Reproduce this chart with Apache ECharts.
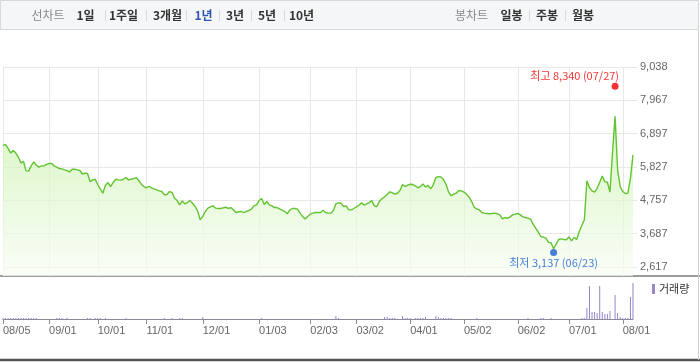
<!DOCTYPE html>
<html><head><meta charset="utf-8">
<script src="https://cdn.jsdelivr.net/npm/echarts@6/dist/echarts.min.js"></script>
<style>html,body{margin:0;padding:0;background:#fff}#c{width:700px;height:362px}</style>
</head><body><div id="c"></div>
<script>
// trading days (Korean market) per month
const monthDays = [
  ['2021/08',[5,6,9,10,11,12,13,17,18,19,20,23,24,25,26,27,30,31]],
  ['2021/09',[1,2,3,6,7,8,9,10,13,14,15,16,17,23,24,27,28,29,30]],
  ['2021/10',[1,5,6,7,8,12,13,14,15,18,19,20,21,22,25,26,27,28,29]],
  ['2021/11',[1,2,3,4,5,8,9,10,11,12,15,16,17,18,19,22,23,24,25,26,29,30]],
  ['2021/12',[1,2,3,6,7,8,9,10,13,14,15,16,17,20,21,22,23,24,27,28,29,30]],
  ['2022/01',[3,4,5,6,7,10,11,12,13,14,17,18,19,20,21,24,25,26,27,28]],
  ['2022/02',[3,4,7,8,9,10,11,14,15,16,17,18,21,22,23,24,25,28]],
  ['2022/03',[2,3,4,7,8,10,11,14,15,16,17,18,21,22,23,24,25,28,29,30,31]],
  ['2022/04',[1,4,5,6,7,8,11,12,13,14,15,18,19,20,21,22,25,26,27,28,29]],
  ['2022/05',[2,3,4,6,9,10,11,12,13,16,17,18,19,20,23,24,25,26,27,30,31]],
  ['2022/06',[2,3,7,8,9,10,13,14,15,16,17,20,21,22,23,24,27,28,29,30]],
  ['2022/07',[1,4,5,6,7,8,11,12,13,14,15,18,19,20,21,22,25,26,27,28,29]],
  ['2022/08',[1,2,3,4,5]]
];
const categories = [];
monthDays.forEach(([m, days]) => days.forEach(d => categories.push(m + '/' + String(d).padStart(2, '0'))));

const tickDates = ['2021/08/05','2021/09/01','2021/10/01','2021/11/01','2021/12/01','2022/01/03',
  '2022/02/03','2022/03/02','2022/04/01','2022/05/02','2022/06/02','2022/07/01','2022/08/01'];
const priceTicks = [2617, 3687, 4757, 5827, 6897, 7967, 9038];

const closePrices = [
  6520,6545,6420,6270,6350,6270,6140,5950,6010,5700,
  5690,5860,5990,5890,5820,5860,5860,5910,5935,5935,
  5860,5820,5775,5765,5730,5710,5665,5750,5750,5730,
  5710,5600,5625,5615,5355,5410,5430,5260,5110,4980,
  5240,5325,5195,5325,5430,5410,5400,5430,5485,5410,
  5430,5450,5485,5390,5270,5195,5155,5205,5155,5120,
  5090,5055,5035,4930,4940,5035,5005,4820,4745,4605,
  4735,4640,4680,4745,4660,4555,4415,4125,4235,4395,
  4500,4545,4580,4500,4490,4490,4510,4530,4490,4520,
  4445,4360,4385,4395,4360,4395,4425,4470,4575,4605,
  4745,4810,4620,4715,4605,4575,4520,4520,4480,4435,
  4395,4320,4445,4490,4490,4470,4340,4235,4150,4235,
  4310,4340,4360,4360,4360,4435,4360,4340,4340,4425,
  4640,4670,4660,4555,4575,4445,4445,4490,4545,4595,
  4670,4595,4640,4680,4745,4575,4555,4725,4810,4865,
  4940,5025,4995,4950,4980,5065,5260,5195,5240,5270,
  5260,5215,5155,5200,5280,5180,5230,5120,5250,5485,
  5515,5505,5420,5270,5015,4900,4950,4980,5070,5055,
  5015,4950,4855,4715,4530,4480,4445,4360,4340,4330,
  4320,4330,4340,4320,4285,4160,4200,4170,4220,4285,
  4310,4330,4285,4220,4200,4180,4150,3985,3860,3730,
  3590,3570,3535,3400,3390,3195,3345,3495,3515,3495,
  3485,3580,3450,3560,3495,3750,3945,4125,5380,5165,
  5055,5015,5140,5335,5530,5355,5335,5015,6300,7455,
  5730,5195,5035,4970,4980,5465,6215
];

const volumes = [
  1,1,1,1,1,1,1,1,1,1,
  1,1,1,1,0,0,0,0,0,0,
  0,1,1,1,0,1,0,0,0,0,
  0,0,0,1,1,0,1,1,1,0,
  1,0,0,0,0,0,0,0,1,0,
  0,0,0,0,0,0,0,0,0,0,
  0,0,0,1,0,0,1,0,0,1,
  1,0,0,0,0,0,0,0,2,0,
  0,0,0,0,0,0,0,0,0,0,
  0,0,0,0,0,0,0,0,0,0,
  0,1,0,0,0,0,0,0,0,0,
  0,0,0,0,0,0,0,0,0,0,
  0,0,0,0,0,0,0,0,0,0,
  3,1,0,0,0,0,0,0,0,0,
  0,0,0,0,0,0,0,0,0,2,
  2,1,1,1,0,0,3,1,1,1,
  0,1,1,1,1,2,0,0,0,3,
  2,1,1,1,1,1,0,0,0,0,
  0,0,0,0,0,1,0,0,0,0,
  0,0,0,0,0,0,0,0,0,0,
  0,0,0,0,0,1,0,0,0,0,
  1,1,0,0,1,0,0,0,0,0,
  0,0,0,0,0,0,1,1,11,33,
  7,7,6,33,7,5,5,8,0,24,
  6,2,1,1,1,22,36
];

const extremeNames = ['최고', '최저'];
const extremeDates = ['2022/07/27', '2022/06/23'];
const extremeValues = [8340, 3137];
const extremeColors = ['#f00000', '#1a5fd0'];

const leftTabs = ['1일', '1주일', '3개월', '1년', '3년', '5년', '10년'];
const leftTabX = [85.5, 123.5, 167.5, 203.5, 235, 267, 301.5];
const rightTabs = ['일봉', '주봉', '월봉'];
const rightTabX = [511.5, 547, 583];

const fmt = v => Number(v).toLocaleString('en-US');
const isTick = (i, v) => tickDates.indexOf(v) >= 0;
const tabFont = 'bold 12px "Noto Sans CJK KR", sans-serif';

const graphics = [
  { type: 'rect', shape: { x: 0.5, y: 0.5, width: 698, height: 29 }, style: { fill: '#f5f6f8', stroke: '#d6d8dc', lineWidth: 1 }, z: 0 },
  { type: 'text', x: 48, y: 15, style: { text: '선차트', font: '12px "Noto Sans CJK KR", sans-serif', fill: '#8a8a8a', align: 'center', verticalAlign: 'middle' } },
  { type: 'text', x: 471.5, y: 15, style: { text: '봉차트', font: '12px "Noto Sans CJK KR", sans-serif', fill: '#8a8a8a', align: 'center', verticalAlign: 'middle' } },
  { type: 'line', shape: { x1: 0, y1: 276, x2: 700, y2: 276 }, style: { stroke: '#7d7d7d', lineWidth: 1.5 } },
  { type: 'line', shape: { x1: 0, y1: 360, x2: 700, y2: 360 }, style: { stroke: '#555555', lineWidth: 2.5 } },
  { type: 'line', shape: { x1: 698.5, y1: 30, x2: 698.5, y2: 360 }, style: { stroke: '#cfcfcf', lineWidth: 1 } },
  { type: 'rect', shape: { x: 652, y: 284, width: 3, height: 10 }, style: { fill: '#9a88cc' } },
  { type: 'text', x: 659, y: 289, style: { text: '거래량', font: '11px "Noto Sans CJK KR", sans-serif', fill: '#333', verticalAlign: 'middle' } }
];
leftTabs.forEach((t, i) => {
  graphics.push({ type: 'text', x: leftTabX[i], y: 15, style: { text: t, font: tabFont, fill: t === '1년' ? '#2f55b5' : '#333', align: 'center', verticalAlign: 'middle' } });
  if (i < leftTabs.length - 1) {
    const sx = Math.round((leftTabX[i] + leftTabX[i + 1]) / 2) + 0.5;
    graphics.push({ type: 'line', shape: { x1: sx, y1: 10, x2: sx, y2: 21 }, style: { stroke: '#d9d9d9', lineWidth: 1 } });
  }
});
rightTabs.forEach((t, i) => {
  graphics.push({ type: 'text', x: rightTabX[i], y: 15, style: { text: t, font: tabFont, fill: '#333', align: 'center', verticalAlign: 'middle' } });
  if (i < rightTabs.length - 1) {
    const sx = Math.round((rightTabX[i] + rightTabX[i + 1]) / 2) + 0.5;
    graphics.push({ type: 'line', shape: { x1: sx, y1: 10, x2: sx, y2: 21 }, style: { stroke: '#d9d9d9', lineWidth: 1 } });
  }
});

const chart = echarts.init(document.getElementById('c'), null, { renderer: 'canvas' });
chart.setOption({
  animation: false,
  backgroundColor: '#fff',
  textStyle: { fontFamily: '"Liberation Sans", Arial, sans-serif' },
  graphic: graphics,
  grid: [
    { left: 3, right: 67, top: 67, height: 209 },
    { left: 3, right: 67, top: 279, height: 40 }
  ],
  xAxis: [
    { type: 'category', gridIndex: 0, data: categories, boundaryGap: false,
      axisLine: { show: false }, axisTick: { show: false }, axisLabel: { show: false },
      splitLine: { show: true, interval: isTick, lineStyle: { color: '#e8e8e8', width: 1 } } },
    { type: 'category', gridIndex: 1, data: categories, boundaryGap: false,
      axisLine: { show: true, lineStyle: { color: '#8a8a9c', width: 1 } },
      axisTick: { show: true, interval: isTick, length: 5, lineStyle: { color: '#8a8a9c' } },
      axisLabel: { show: true, interval: isTick, formatter: v => v.slice(5), align: 'left', margin: 6,
        color: '#666', fontSize: 11, fontFamily: '"Liberation Sans", Arial, sans-serif' },
      splitLine: { show: false } }
  ],
  yAxis: [
    { type: 'value', gridIndex: 0, position: 'right', min: 2320, max: 9038,
      axisLine: { show: false },
      axisTick: { show: true, length: 4, customValues: priceTicks, lineStyle: { color: '#e6e6e6' } },
      axisLabel: { show: true, customValues: priceTicks, formatter: fmt, margin: 7, color: '#666', fontSize: 11,
        fontFamily: '"Liberation Sans", Arial, sans-serif' },
      splitLine: { show: true, lineStyle: { color: '#e8e8e8', width: 1 } } },
    { type: 'value', gridIndex: 1, min: 0, max: 40, show: false, splitLine: { show: false } }
  ],
  series: [
    { type: 'line', xAxisIndex: 0, yAxisIndex: 0, data: closePrices, symbol: 'none',
      lineStyle: { color: '#62c430', width: 1.4 },
      areaStyle: { color: new echarts.graphic.LinearGradient(0, 67, 0, 276, [
        { offset: 0, color: '#b6ea8c' },
        { offset: 0.4, color: '#d2f4b9' },
        { offset: 1, color: '#f8fdf5' }], true) },
      z: 3 },
    { type: 'scatter', xAxisIndex: 0, yAxisIndex: 0, symbolSize: 7, z: 5,
      data: extremeNames.map((n, i) => ({
        value: [extremeDates[i], extremeValues[i]],
        symbolOffset: i === 0 ? [0, -2.5] : [0, 2],
        itemStyle: { color: extremeColors[i] },
        label: { show: true, color: extremeColors[i], fontSize: 11,
          fontFamily: '"Noto Sans CJK KR", sans-serif',
          position: i === 0 ? [7.5, -6.5] : [3.5, 14],
          align: i === 0 ? 'right' : 'center', verticalAlign: 'middle',
          formatter: n + ' ' + fmt(extremeValues[i]) + ' (' + extremeDates[i].slice(5) + ')' }
      })) },
    { type: 'bar', xAxisIndex: 1, yAxisIndex: 1, data: volumes, barWidth: 1,
      itemStyle: { color: '#9484c9' } }
  ]
});
</script></body></html>
